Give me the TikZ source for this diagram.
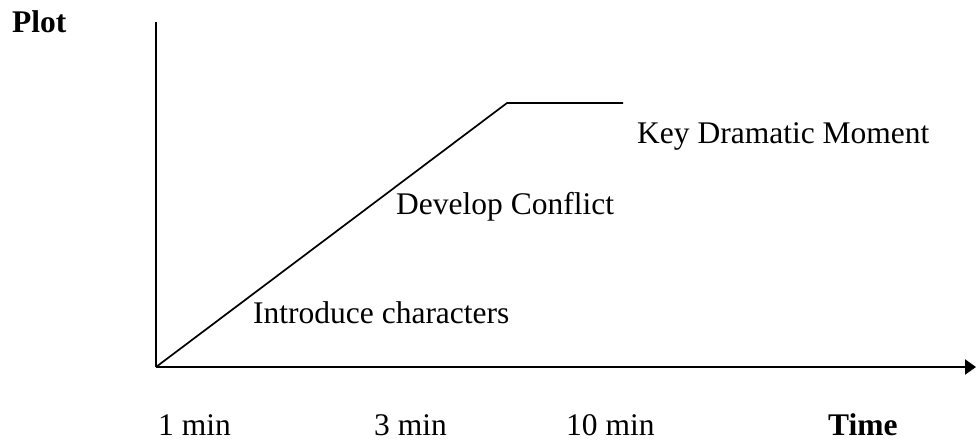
\documentclass[tikz,border=0pt]{standalone}
\usepackage{fontspec}
\setmainfont{Liberation Serif}
\usetikzlibrary{arrows.meta}
\begin{document}
\begin{tikzpicture}[x=1pt,y=-1pt,
  lbl/.style={anchor=base west,inner sep=0pt,font=\fontsize{31.5}{36}\selectfont},
  boldlbl/.style={lbl,font=\fontsize{31.5}{36}\selectfont\bfseries},
  axis/.style={line width=2.2pt},
  curve/.style={line width=1.7pt}]
\useasboundingbox (0,0) rectangle (976,442);
% axes
\coordinate (O) at (156,367);
\coordinate (ytop) at (156,22);
\coordinate (xend) at (976,367);
\draw[axis] (O) -- (ytop);
\draw[axis,-{Triangle[length=11pt,width=15pt]}] (O) -- (xend);
% plot line
\coordinate (peak) at (507,103);
\coordinate (plateau) at (623,103);
\draw[curve] (O) -- (peak) -- (plateau);
% labels
\node[boldlbl] (plot) at (12,32) {Plot};
\node[lbl] (key) at (637,143) {Key Dramatic Moment};
\node[lbl] (dev) at (396,214) {Develop Conflict};
\node[lbl] (intro) at (253,323) {Introduce characters};
\node[lbl] (t1) at (158,435) {1 min};
\node[lbl] (t3) at (374,435) {3 min};
\node[lbl] (t10) at (566,435) {10 min};
\node[boldlbl] (time) at (828,435) {Time};
\end{tikzpicture}
\end{document}
